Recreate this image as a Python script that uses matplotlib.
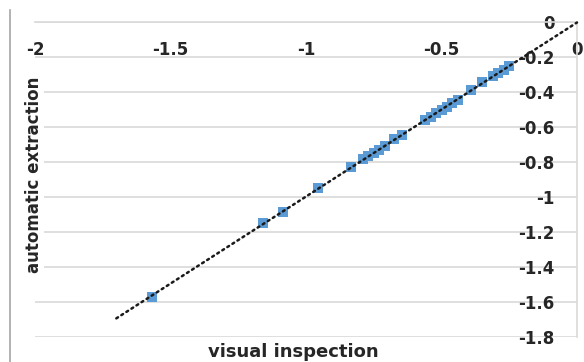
"""
Agreement between visual inspection and automatic extraction,
scatter of paired values with a linear trendline.
"""

import numpy as np
import matplotlib.pyplot as plt
from matplotlib.lines import Line2D

# Paired measurements (visual inspection vs automatic extraction)
visual = [-1.57, -1.16, -1.085, -0.955, -0.835,
          -0.79, -0.77, -0.75, -0.73, -0.71,
          -0.675, -0.645,
          -0.56, -0.54, -0.52, -0.50, -0.48, -0.46, -0.44,
          -0.39, -0.35, -0.31, -0.29, -0.27, -0.25]
automatic = [-1.57, -1.15, -1.085, -0.95, -0.83,
             -0.785, -0.765, -0.75, -0.73, -0.71,
             -0.67, -0.645,
             -0.56, -0.545, -0.52, -0.50, -0.485, -0.465, -0.445,
             -0.39, -0.345, -0.31, -0.29, -0.275, -0.25]

# Range covered by the trendline (extended backwards past the data)
TREND_RANGE = [-1.7, 0.0]

x_ticks = [-2, -1.5, -1, -0.5, 0]
x_tick_labels = ['-2', '-1.5', '-1', '-0.5', '0']
y_ticks = [0, -0.2, -0.4, -0.6, -0.8, -1, -1.2, -1.4, -1.6, -1.8]
y_tick_labels = ['0', '-0.2', '-0.4', '-0.6', '-0.8', '-1', '-1.2', '-1.4', '-1.6', '-1.8']

BLUE = '#5B9BD5'
GRID = '#D9D9D9'
TEXT = '#262626'

fig = plt.figure(figsize=(5.84, 3.62), dpi=100)
ax = fig.add_axes([35 / 584, 1 - 337 / 362, 542 / 584, 315 / 362])

# scatter markers
ax.plot(visual, automatic, linestyle='none', marker='s', markersize=6.5,
        color=BLUE, markeredgewidth=0, zorder=3)

# linear trendline
slope, intercept = np.polyfit(visual, automatic, 1)
tx = np.array(TREND_RANGE)
ax.plot(tx, slope * tx + intercept, color='#1a1a1a', linewidth=1.8,
        linestyle=(0, (0.8, 1.6)), dash_capstyle='round', zorder=4,
        clip_on=False)

ax.set_xlim(-2, 0)
ax.set_ylim(-1.8, 0)

# axes cross at the origin: x axis along the top, y axis along the right
ax.spines['bottom'].set_position(('data', 0))
ax.spines['left'].set_position(('data', 0))
ax.spines['top'].set_visible(False)
ax.spines['right'].set_visible(False)
for side in ('bottom', 'left'):
    ax.spines[side].set_color(GRID)
    ax.spines[side].set_linewidth(1.2)

ax.set_xticks(x_ticks)
ax.set_xticklabels(x_tick_labels)
ax.set_yticks(y_ticks)
ax.set_yticklabels(y_tick_labels)
ax.tick_params(axis='x', length=0, pad=14, labelsize=12, labelcolor=TEXT)
ax.tick_params(axis='y', length=0, pad=16, labelsize=12, labelcolor=TEXT)
for lab in ax.get_xticklabels() + ax.get_yticklabels():
    lab.set_fontweight('bold')

ax.yaxis.grid(True, color=GRID, linewidth=1.2)
ax.set_axisbelow(True)

# axis titles
fig.text(34 / 584, 1 - 175 / 362, 'automatic extraction', rotation=90,
         ha='center', va='center', fontsize=12, fontweight='bold', color=TEXT,
         bbox=dict(facecolor='white', edgecolor='none', pad=1))
fig.text(293 / 584, 1 - 357 / 362, 'visual inspection', ha='center',
         va='baseline', fontsize=13, fontweight='bold', color=TEXT)

# chart area border on the left
fig.add_artist(Line2D([10 / 584, 10 / 584], [0, 1 - 10 / 362],
                      transform=fig.transFigure, color='#A6A6A6', linewidth=1.2))

fig.savefig('out.png', dpi=100)
